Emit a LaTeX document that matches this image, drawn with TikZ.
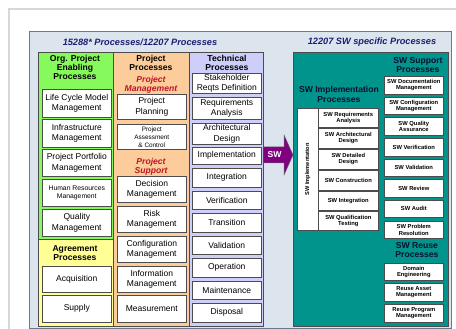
\documentclass[tikz,border=0pt]{standalone}
\usepackage{fontspec}
\setmainfont{Liberation Sans}
\definecolor{panelbg}{RGB}{220,228,238}
\definecolor{panelbd}{RGB}{110,120,135}
\definecolor{greenc}{RGB}{134,250,92}
\definecolor{yellowc}{RGB}{255,255,150}
\definecolor{orangec}{RGB}{252,204,154}
\definecolor{lavc}{RGB}{206,206,250}
\definecolor{tealc}{RGB}{0,148,140}
\definecolor{arrowc}{RGB}{128,0,128}
\definecolor{redc}{RGB}{190,20,40}
\definecolor{navyc}{RGB}{30,30,115}
\definecolor{darktext}{RGB}{10,15,45}
\definecolor{framec}{RGB}{215,215,215}
\tikzset{
  pbox/.style={draw=black!70, fill=white, line width=0.6pt, inner sep=0pt, align=center,
    anchor=north west, font=\fontsize{8.5}{10.5}\selectfont},
  smallbox/.style={pbox, font=\fontsize{6.8}{8}\selectfont},
  swbox/.style={pbox, font=\fontsize{5.8}{6.3}\selectfont\bfseries},
  hdr/.style={font=\fontsize{8.6}{9.4}\selectfont\bfseries, align=center, inner sep=0pt},
  redhdr/.style={font=\fontsize{8.6}{9.4}\selectfont\bfseries\itshape, text=redc, align=center, inner sep=0pt},
  tealhdr/.style={hdr, text=darktext},
  ttl/.style={font=\fontsize{9.2}{10}\selectfont\bfseries\itshape, text=navyc, inner sep=0pt},
  colbox/.style={draw=black!70, line width=0.6pt},
}
\begin{document}
\begin{tikzpicture}[x=1pt,y=-1pt]
\useasboundingbox (0,0) rectangle (456,329);
\fill[white] (0,0) rectangle (456,329);
\draw[framec, line width=1.5pt] (9,329) -- (9,9) -- (456,9);
% main panel
\draw[fill=panelbg, draw=panelbd, line width=0.8pt] (29,31) rectangle (451,328);
\node[ttl] (t1) at (140,42) {15288* Processes/12207 Processes};
\node[ttl] (t2) at (372,42) {12207 SW specific Processes};
% columns
\filldraw[colbox, fill=greenc] (38,52) rectangle (113,239);
\filldraw[colbox, fill=yellowc] (38,239) rectangle (113,326);
\filldraw[colbox, fill=orangec] (113,52) rectangle (189,326);
\filldraw[colbox, fill=lavc] (189,52) rectangle (263,326);
\filldraw[colbox, fill=tealc] (293,52) rectangle (448,326);
% column headers
\node[hdr] (hg) at (75,67.5) {Org. Project\\Enabling\\Processes};
\node[hdr] (hy) at (75,253) {Agreement\\Processes};
\node[hdr] (ho) at (151,63) {Project\\Processes};
\node[redhdr] (hpm) at (151,84.5) {Project\\Management};
\node[redhdr] (hps) at (151,166.5) {Project\\Support};
\node[hdr] (ht) at (227,63) {Technical\\Processes};
% green boxes
\node[pbox, minimum width=69pt, minimum height=28pt] (lcm) at (42,89) {Life Cycle Model\\Management};
\node[pbox, minimum width=69pt, minimum height=28pt] (inf) at (42,119) {Infrastructure\\Management};
\node[pbox, minimum width=69pt, minimum height=27pt] (ppm) at (42,149) {Project Portfolio\\Management};
\node[smallbox, minimum width=69pt, minimum height=27pt] (hrm) at (42,179) {Human Resources\\Management};
\node[pbox, minimum width=69pt, minimum height=27pt] (qm) at (42,209) {Quality\\Management};
\node[pbox, minimum width=69pt, minimum height=26pt] (acq) at (42,266) {Acquisition};
\node[pbox, minimum width=69pt, minimum height=27pt] (sup) at (42,295) {Supply};
% orange boxes
\node[pbox, minimum width=69pt, minimum height=25pt] (pp) at (117,94) {Project\\Planning};
\node[smallbox, minimum width=69pt, minimum height=25pt, font=\fontsize{6.4}{8}\selectfont] (pac) at (117,124) {Project\\Assessment\\\& Control};
\node[pbox, minimum width=69pt, minimum height=26pt] (dm) at (117,176) {Decision\\Management};
\node[pbox, minimum width=69pt, minimum height=26pt] (rm) at (117,206) {Risk\\Management};
\node[pbox, minimum width=69pt, minimum height=26pt] (cm) at (117,236) {Configuration\\Management};
\node[pbox, minimum width=69pt, minimum height=26pt] (im) at (117,266) {Information\\Management};
\node[pbox, minimum width=69pt, minimum height=27pt] (meas) at (117,295) {Measurement};
% technical boxes
\node[pbox, minimum width=69pt, minimum height=20pt] (srd) at (192,73) {Stakeholder\\Reqts Definition};
\node[pbox, minimum width=69pt, minimum height=22pt] (ra) at (192,97) {Requirements\\Analysis};
\node[pbox, minimum width=69pt, minimum height=21pt] (ad) at (192,123) {Architectural\\Design};
\node[pbox, minimum width=69pt, minimum height=17pt] (impl) at (192,147) {Implementation};
\node[pbox, minimum width=69pt, minimum height=19pt] (integ) at (192,168) {Integration};
\node[pbox, minimum width=69pt, minimum height=18pt] (verif) at (192,191) {Verification};
\node[pbox, minimum width=69pt, minimum height=19pt] (trans) at (192,213) {Transition};
\node[pbox, minimum width=69pt, minimum height=18pt] (valid) at (192,236) {Validation};
\node[pbox, minimum width=69pt, minimum height=19pt] (oper) at (192,258) {Operation};
\node[pbox, minimum width=69pt, minimum height=18pt] (maint) at (192,281) {Maintenance};
\node[pbox, minimum width=69pt, minimum height=19pt] (disp) at (192,303) {Disposal};
% SW arrow
\filldraw[fill=arrowc, draw=black!60, line width=0.5pt]
  (263,147) -- (284,147) -- (284,135) -- (293,155) -- (284,175) -- (284,163) -- (263,163) -- cycle;
\node[font=\fontsize{8.6}{9}\selectfont\bfseries, text=white, inner sep=0pt] (swl) at (274.5,155) {SW};
% teal headers
\node[tealhdr] (hsi) at (339,94.5) {SW Implementation\\Processes};
\node[tealhdr] (hss) at (418,65) {SW Support\\Processes};
\node[tealhdr] (hsr) at (417,250) {SW Reuse\\Processes};
% SW implementation
\node[pbox, minimum width=21pt, minimum height=122pt] (svert) at (297,108) {};
\node[font=\fontsize{5.6}{6}\selectfont\bfseries, rotate=90, inner sep=0pt] (svl) at (svert.center) {SW Implementation};
\node[swbox, minimum width=60pt, minimum height=19pt] (sra) at (318,108) {SW Requirements\\Analysis};
\node[swbox, minimum width=60pt, minimum height=20pt] (sad) at (318,128) {SW Architectural\\Design};
\node[swbox, minimum width=60pt, minimum height=20pt] (sdd) at (318,149) {SW Detailed\\Design};
\node[swbox, minimum width=60pt, minimum height=20pt] (scon) at (318,170) {SW Construction};
\node[swbox, minimum width=60pt, minimum height=19pt] (sint) at (318,191) {SW Integration};
\node[swbox, minimum width=60pt, minimum height=19pt] (sqt) at (318,211) {SW Qualification\\Testing};
% SW support
\node[swbox, minimum width=59pt, minimum height=18pt] (sdoc) at (384,76) {SW Documentation\\Management};
\node[swbox, minimum width=59pt, minimum height=17pt] (sconf) at (384,97) {SW Configuration\\Management};
\node[swbox, minimum width=59pt, minimum height=18pt] (sqa) at (384,117) {SW Quality\\Assurance};
\node[swbox, minimum width=59pt, minimum height=18pt] (sver) at (384,138) {SW Verification};
\node[swbox, minimum width=59pt, minimum height=17pt] (sval) at (384,159) {SW Validation};
\node[swbox, minimum width=59pt, minimum height=18pt] (srev) at (384,179) {SW Review};
\node[swbox, minimum width=59pt, minimum height=17pt] (saud) at (384,200) {SW Audit};
\node[swbox, minimum width=59pt, minimum height=17pt] (spr) at (384,221) {SW Problem\\Resolution};
% SW reuse
\node[swbox, minimum width=59pt, minimum height=17pt] (dom) at (384,263) {Domain\\Engineering};
\node[swbox, minimum width=59pt, minimum height=18pt] (ram) at (384,283) {Reuse Asset\\Management};
\node[swbox, minimum width=59pt, minimum height=18pt] (rpm) at (384,304) {Reuse Program\\Management};
\end{tikzpicture}
\end{document}
